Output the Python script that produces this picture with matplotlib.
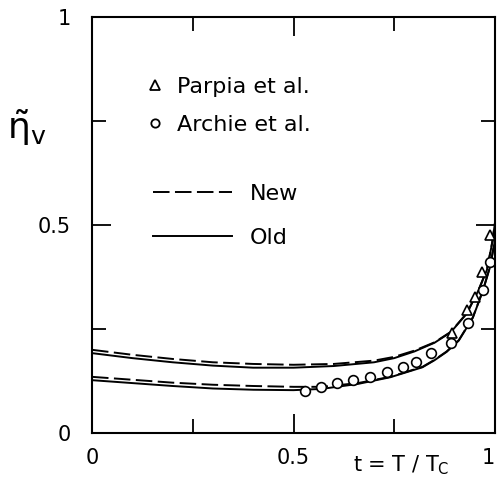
import numpy as np
import matplotlib.pyplot as plt
from matplotlib.ticker import FixedLocator

plt.rcParams['font.family'] = 'DejaVu Sans'
plt.rcParams['mathtext.default'] = 'regular'

# curves (t = T/Tc, reduced viscosity)
t_old_up = [0, 0.1, 0.2, 0.3, 0.4, 0.5, 0.6, 0.7, 0.75, 0.8, 0.85, 0.89, 0.93, 0.96, 0.98, 0.993, 1.0]
old_up = [0.192, 0.180, 0.170, 0.162, 0.157, 0.157, 0.161, 0.170, 0.180, 0.196, 0.217, 0.242, 0.287, 0.345, 0.392, 0.457, 0.505]
t_new_up = [0, 0.1, 0.2, 0.3, 0.4, 0.5, 0.6, 0.7, 0.75, 0.8, 0.85, 0.89, 0.93, 0.96, 0.98, 0.993, 1.0]
new_up = [0.200, 0.188, 0.178, 0.170, 0.166, 0.164, 0.166, 0.174, 0.183, 0.198, 0.218, 0.243, 0.288, 0.346, 0.393, 0.458, 0.506]

t_old_lo = [0, 0.1, 0.2, 0.3, 0.4, 0.5, 0.57, 0.66, 0.74, 0.82, 0.85, 0.88, 0.91, 0.945, 0.97, 0.988, 1.0]
old_lo = [0.127, 0.120, 0.113, 0.107, 0.104, 0.103, 0.106, 0.118, 0.134, 0.158, 0.175, 0.195, 0.222, 0.277, 0.342, 0.400, 0.464]
t_new_lo = [0, 0.1, 0.2, 0.3, 0.4, 0.5, 0.57, 0.66, 0.74, 0.82, 0.85, 0.88, 0.91, 0.945, 0.97, 0.988, 1.0]
new_lo = [0.135, 0.128, 0.121, 0.116, 0.113, 0.111, 0.111, 0.120, 0.135, 0.159, 0.176, 0.196, 0.223, 0.278, 0.343, 0.401, 0.465]

# Archie et al. (circles)
t_archie = [0.529, 0.568, 0.608, 0.648, 0.690, 0.732, 0.772, 0.804, 0.841, 0.891, 0.933, 0.970, 0.988]
eta_archie = [0.101, 0.111, 0.120, 0.127, 0.135, 0.147, 0.159, 0.171, 0.192, 0.216, 0.264, 0.344, 0.411]
# Parpia et al. (triangles)
t_parpia = [0.893, 0.931, 0.950, 0.968, 0.988]
eta_parpia = [0.240, 0.296, 0.327, 0.387, 0.476]

W, H = 497, 479
fig = plt.figure(figsize=(W / 100, H / 100), dpi=100)
ax = fig.add_axes([92 / W, (H - 433) / H, (495 - 92) / W, (433 - 17) / H])

lw = 1.4
dash = (8.5, 2.8)
ax.plot(t_old_up, old_up, 'k-', lw=lw)
ax.plot(t_old_lo, old_lo, 'k-', lw=lw)
ax.plot(t_new_up, new_up, 'k--', lw=lw, dashes=dash)
ax.plot(t_new_lo, new_lo, 'k--', lw=lw, dashes=dash)
ax.plot(t_archie, eta_archie, 'o', mfc='white', mec='k', ms=7, mew=1.2)
ax.plot(t_parpia, eta_parpia, '^', mfc='white', mec='k', ms=6.5, mew=1.2)

ax.set_xlim(0, 1)
ax.set_ylim(0, 1)
for s in ax.spines.values():
    s.set_linewidth(1.5)

ax.xaxis.set_major_locator(FixedLocator([0, 0.5, 1]))
ax.xaxis.set_minor_locator(FixedLocator([0.25, 0.75]))
ax.yaxis.set_major_locator(FixedLocator([0, 0.5, 1]))
ax.yaxis.set_minor_locator(FixedLocator([0.25, 0.75]))
ax.set_xticklabels(['0', '0.5', '1'])
ax.set_yticklabels(['0', '0.5', '1'])
ax.tick_params(which='both', direction='in', top=True, right=True, width=1.3, labelsize=15)
ax.tick_params(which='major', length=14)
ax.tick_params(which='minor', length=10)
ax.tick_params(axis='x', pad=11)
ax.tick_params(axis='y', pad=15)
# the "1" at the right edge would be cut off, pull it inside
ax.get_xticklabels()[-1].set_horizontalalignment('right')

# legends
h1, = ax.plot([], [], '^', mfc='white', mec='k', ms=7, mew=1.3)
h2, = ax.plot([], [], 'o', mfc='white', mec='k', ms=6, mew=1.3)
leg1 = ax.legend([h1, h2], ['Parpia et al.', 'Archie et al.'], loc='upper left',
                 bbox_to_anchor=(146 / W, 1 - 77 / H), bbox_transform=fig.transFigure,
                 frameon=False, fontsize=16, handlelength=0.8, handletextpad=0.6,
                 borderpad=0, borderaxespad=0, labelspacing=0.82)
ax.add_artist(leg1)
h3, = ax.plot([], [], 'k--', lw=lw, dashes=dash)
h4, = ax.plot([], [], 'k-', lw=lw)
ax.legend([h3, h4], ['New', 'Old'], loc='upper left',
          bbox_to_anchor=(153 / W, 1 - 184 / H), bbox_transform=fig.transFigure,
          frameon=False, fontsize=16, handlelength=3.56, handletextpad=0.8,
          borderpad=0, borderaxespad=0, labelspacing=1.07)

fig.text(27 / W, 1 - 128 / H, r'$\tilde{\eta}_{v}$', fontsize=26, ha='center', va='center')
fig.text(353 / W, 1 - 477 / H, r't = T / T$_{C}$', fontsize=15, ha='left', va='bottom')

fig.savefig('out.png', dpi=100)
